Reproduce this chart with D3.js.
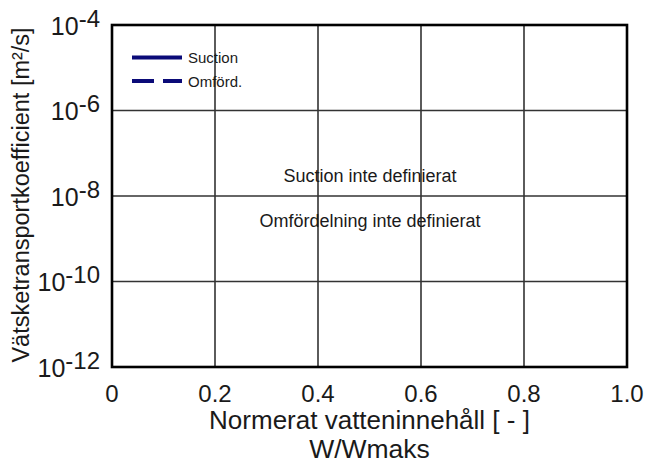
<!DOCTYPE html>
<html><head><meta charset="utf-8">
<script src="https://cdn.jsdelivr.net/npm/d3@7"></script>
<style>
html,body{margin:0;padding:0;background:#fff;}
text{font-family:"Liberation Sans",Arial,Helvetica,sans-serif;fill:#1a1a1a;}
</style></head>
<body><svg id="c" width="646" height="465"></svg>
<script>
const xTicks = [0, 0.2, 0.4, 0.6, 0.8, 1.0];
const xTickLabels = ["0", "0.2", "0.4", "0.6", "0.8", "1.0"];
const yTickExponents = [-4, -6, -8, -10, -12];
const seriesNames = ["Suction", "Omförd."];
const seriesDash = [null, "22,9"];
const notes = ["Suction inte definierat", "Omfördelning inte definierat"];
const xTitle = ["Normerat vatteninnehåll [ - ]", "W/Wmaks"];
const yTitle = "Vätsketransportkoefficient [m²/s]";

const svg = d3.select("#c");
const L = 112, R = 627, T = 25, B = 367;
const x = d3.scaleLinear().domain([0, 1]).range([L, R]);
const y = d3.scaleLog().domain([1e-12, 1e-4]).range([B, T]);

// grid
const g = svg.append("g");
g.selectAll("line.vx").data(xTicks.slice(1, -1)).join("line")
  .attr("x1", d => x(d)).attr("x2", d => x(d)).attr("y1", T).attr("y2", B)
  .attr("stroke", "#333").attr("stroke-width", 1.6);
g.selectAll("line.hy").data(yTickExponents.slice(1, -1)).join("line")
  .attr("x1", L).attr("x2", R).attr("y1", d => y(Math.pow(10, d))).attr("y2", d => y(Math.pow(10, d)))
  .attr("stroke", "#333").attr("stroke-width", 1.6);
// frame
svg.append("rect").attr("x", L).attr("y", T).attr("width", R - L).attr("height", B - T)
  .attr("fill", "none").attr("stroke", "#000").attr("stroke-width", 2.6);

// y tick labels
const yl = svg.append("g");
yTickExponents.forEach(e => {
  const yy = y(Math.pow(10, e));
  const t = yl.append("text").attr("x", 100).attr("y", yy + 9.5).attr("text-anchor", "end")
    .style("font-size", "25px");
  t.append("tspan").text("10");
  t.append("tspan").attr("dy", -8).style("font-size", "24px").text("-" + Math.abs(e));
});

// x tick labels
svg.append("g").selectAll("text").data(xTicks).join("text")
  .attr("x", d => x(d)).attr("y", 402).attr("text-anchor", "middle")
  .style("font-size", "24px").text((d, i) => xTickLabels[i]);

// axis titles
svg.append("text").attr("x", (L + R) / 2).attr("y", 429).attr("text-anchor", "middle")
  .style("font-size", "26px").text(xTitle[0]);
svg.append("text").attr("x", (L + R) / 2).attr("y", 458).attr("text-anchor", "middle")
  .style("font-size", "26.5px").text(xTitle[1]);
svg.append("text").attr("transform", `translate(29,${(T + B) / 2 - 1}) rotate(-90)`)
  .attr("text-anchor", "middle").style("font-size", "23.5px").text(yTitle);

// legend
const lg = svg.append("g");
seriesNames.forEach((s, i) => {
  const yy = 57.5 + i * 23.5;
  lg.append("line").attr("x1", 132).attr("x2", 182).attr("y1", yy).attr("y2", yy)
    .attr("stroke", "#0b0b78").attr("stroke-width", 4)
    .attr("stroke-dasharray", seriesDash[i]);
  lg.append("text").attr("x", 188).attr("y", yy + 5.5).style("font-size", "15px").text(s);
});

// notes
svg.append("text").attr("x", 370).attr("y", 181.5).attr("text-anchor", "middle")
  .style("font-size", "18px").text(notes[0]);
svg.append("text").attr("x", 370).attr("y", 227).attr("text-anchor", "middle")
  .style("font-size", "18px").text(notes[1]);
</script></body></html>
